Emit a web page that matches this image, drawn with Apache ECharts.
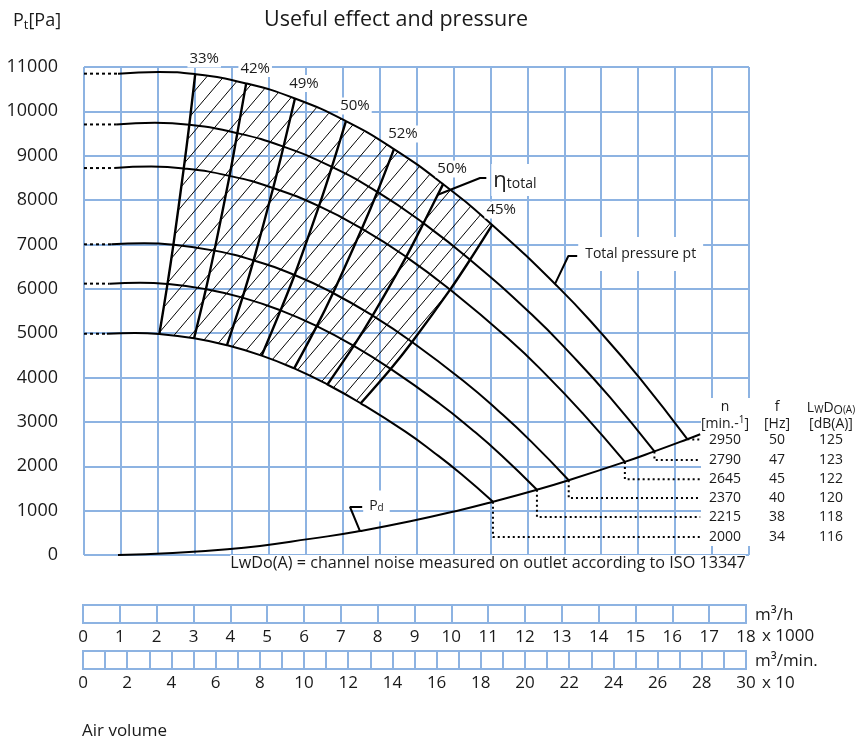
<!DOCTYPE html>
<html><head><meta charset="utf-8">
<script src="https://cdn.jsdelivr.net/npm/echarts@6/dist/echarts.min.js"></script>
<style>html,body{margin:0;padding:0;background:#fff}#c{width:868px;height:740px}</style>
</head><body><div id="c"></div>
<script>
const FONT = '"Open Sans", "Noto Sans", sans-serif';
const TXT = '#1a1a1a';
const BLUE = '#8db3e2';

// ---- data ----
const speeds = [2950, 2790, 2645, 2370, 2215, 2000];
const freqs = [50, 47, 45, 40, 38, 34];
const noise = [125, 123, 122, 120, 118, 116];
const rowLevels = [2600, 2140, 1710, 1285, 857, 406];
const tableEndX = 16.68;

const curve2950 = [[0.92,10850],[2.03,10890],[3.01,10840],[4.39,10630],[5.71,10290],[7.09,9780],[8.39,9150],[9.72,8360],[11.05,7440],[12.81,6060],[13.97,5030],[15.06,3970],[16.33,2610]];
const curve2790 = [[0.87,9705],[1.92,9741],[2.85,9696],[4.15,9508],[5.40,9204],[6.71,8748],[7.94,8184],[9.19,7478],[10.45,6655],[12.12,5420],[13.21,4499],[14.24,3551],[15.44,2335]];
const curve2645 = [[0.82,8722],[1.82,8755],[2.70,8714],[3.94,8546],[5.12,8272],[6.36,7862],[7.52,7356],[8.72,6721],[9.91,5981],[11.49,4872],[12.53,4044],[13.50,3192],[14.64,2098]];
const curve2370 = [[0.74,7003],[1.63,7029],[2.42,6996],[3.53,6861],[4.59,6641],[5.70,6312],[6.74,5906],[7.81,5396],[8.88,4802],[10.29,3911],[11.22,3247],[12.10,2562],[13.12,1685]];
const curve2215 = [[0.69,6117],[1.52,6139],[2.26,6111],[3.30,5993],[4.29,5801],[5.32,5514],[6.30,5158],[7.30,4713],[8.30,4194],[9.62,3416],[10.49,2836],[11.31,2238],[12.26,1471]];
const curve2000 = [[0.62,4987],[1.38,5005],[2.04,4982],[2.98,4886],[3.87,4730],[4.81,4495],[5.69,4206],[6.59,3843],[7.49,3420],[8.69,2785],[9.47,2312],[10.21,1825],[11.07,1200]];
const curves = [curve2950, curve2790, curve2645, curve2370, curve2215, curve2000];

const dynPressure = [[0.92,0],[3.88,130],[6.59,420],[7.48,540],[8.83,760],[10.19,1015],[11.07,1200],[12.26,1471],[13.12,1685],[14.64,2098],[15.44,2335],[16.33,2610],[16.68,2723]];

// efficiency lines join the same operating point on every speed curve
const effNames = ['33%','42%','49%','50%','52%','50%','45%'];
const effPointIndex = [2, 3, 4, 5, 6, 7, 8];

const etaPointer = [[9.56,8115],[10.72,8499],[10.89,8499]];
const ptPointer = [[12.75,6110],[13.11,6740],[13.35,6740]];
const pdPointer = [[7.47,536],[7.20,1082],[7.53,1082]];

const yTicks = {min:0, max:11000, step:1000};
const flowTicks = {min:0, max:18, step:1};
const flowMinTicks = {min:0, max:30, step:1, labelEvery:2};

const effLines = effPointIndex.map(k => curves.map(c => c[k]));

// ---- hatch polygon: between first and last efficiency line, top and bottom speed curve ----
const k0 = effPointIndex[0], k1 = effPointIndex[effPointIndex.length-1];
const topC = curves[0], botC = curves[curves.length-1];
const hatchPoly = []
  .concat(effLines[0].slice().reverse())
  .concat(topC.slice(k0+1, k1))
  .concat(effLines[effLines.length-1])
  .concat(botC.slice(k0+1, k1).reverse());

function makeHatch(){
  const c = document.createElement('canvas'); c.width = 17; c.height = 20;
  const g = c.getContext('2d'); g.strokeStyle = '#000'; g.lineWidth = 1;
  g.beginPath(); g.moveTo(-1.7, 22); g.lineTo(18.7, -2); g.stroke();
  return c;
}
const hatchCanvas = makeHatch();

const series = [];
series.push({
  type:'custom', xAxisIndex:0, yAxisIndex:0, z:3, silent:true,
  data:[[0,0]],
  renderItem(params, api){
    return {type:'polygon', shape:{points: hatchPoly.map(p => api.coord(p)), smooth:0},
      style:{fill:{image:hatchCanvas, repeat:'repeat'}, stroke:null}};
  }
});
const lineBase = {type:'line', xAxisIndex:0, yAxisIndex:0, symbol:'none', silent:true, z:5, animation:false};
curves.forEach((c, i) => {
  series.push(Object.assign({}, lineBase, {data:c, smooth:0.5, lineStyle:{color:'#000', width:2}}));
  series.push(Object.assign({}, lineBase, {data:[[0,c[0][1]], c[0]], lineStyle:{color:'#000', width:2, type:[3,3]}}));
  const e = c[c.length-1];
  series.push(Object.assign({}, lineBase, {data:[e, [e[0], rowLevels[i]], [tableEndX, rowLevels[i]]], lineStyle:{color:'#000', width:2, type:[2,3]}}));
});
series.push(Object.assign({}, lineBase, {data:dynPressure, smooth:0.5, lineStyle:{color:'#000', width:2}}));
effLines.forEach(l => series.push(Object.assign({}, lineBase, {data:l, smooth:0.3, lineStyle:{color:'#000', width:2.4}})));
[etaPointer, ptPointer, pdPointer].forEach(l => series.push(Object.assign({}, lineBase, {data:l, lineStyle:{color:'#000', width:2}})));

const chart = echarts.init(document.getElementById('c'), null, {renderer:'canvas'});
const axisCommon = {type:'value', axisLine:{show:false}, axisTick:{show:false}, splitLine:{show:true, lineStyle:{color:BLUE, width:2}}};
chart.setOption({
  animation:false,
  backgroundColor:'#fff',
  grid:[
    {left:84, top:67, width:665, height:488, show:false},
    {left:83, top:605, width:663, height:18, show:true, borderColor:BLUE, borderWidth:2, backgroundColor:'transparent'},
    {left:83, top:651, width:663, height:18, show:true, borderColor:BLUE, borderWidth:2, backgroundColor:'transparent'}
  ],
  xAxis:[
    Object.assign({}, axisCommon, {gridIndex:0, min:flowTicks.min, max:flowTicks.max, interval:flowTicks.step, axisLabel:{show:false}}),
    Object.assign({}, axisCommon, {gridIndex:1, min:flowTicks.min, max:flowTicks.max, interval:flowTicks.step,
      axisLabel:{show:true, fontSize:17, margin:6, color:TXT, fontFamily:FONT}}),
    Object.assign({}, axisCommon, {gridIndex:2, min:flowMinTicks.min, max:flowMinTicks.max, interval:flowMinTicks.step,
      axisLabel:{show:true, fontSize:17, margin:6, color:TXT, fontFamily:FONT, formatter:v => (v % flowMinTicks.labelEvery === 0 ? String(v) : '')}})
  ],
  yAxis:[
    Object.assign({}, axisCommon, {gridIndex:0, min:yTicks.min, max:yTicks.max, interval:yTicks.step,
      axisLabel:{show:true, fontSize:18, margin:26, color:TXT, fontFamily:FONT, formatter:v => String(v)}}),
    {gridIndex:1, type:'value', show:false, min:0, max:1},
    {gridIndex:2, type:'value', show:false, min:0, max:1}
  ],
  series: series
});

// ---- texts ----
const px = p => chart.convertToPixel({gridIndex:0}, p);
const g = [];
function txt(x, y, text, o){
  o = o || {};
  g.push({type:'text', z:o.z || 20, x:x, y:y, silent:true, style:Object.assign({
    text:text, fontFamily:FONT, fontSize:16, fill:TXT, align:'center', verticalAlign:'middle'}, o.style || {})});
}
// white area behind the table
g.push({type:'rect', z:4, silent:true, shape:{x:701, y:398, width:70, height:148}, style:{fill:'#fff'}});

txt(396, 20, 'Useful effect and pressure', {style:{fontSize:21.5}});
txt(13, 21, '{a|P}{b|t}{a|[Pa]}', {style:{align:'left', rich:{a:{fontSize:18, fontFamily:FONT, fill:TXT}, b:{fontSize:13, fontFamily:FONT, fill:TXT, padding:[9,0,0,0]}}}});

effLines.forEach((l, i) => {
  const p = px(l[0]);
  txt(p[0] + 9, p[1] - 15, effNames[i], {style:{fontSize:15, backgroundColor:'#fff', padding:[1,2]}});
});
const ep = px(etaPointer[etaPointer.length-1]);
txt(ep[0] + 5, ep[1] + 2, '{a|η}{b|total}', {style:{align:'left', backgroundColor:'#fff', padding:[6,3,4,2],
  rich:{a:{fontSize:22, fontFamily:FONT, fill:TXT}, b:{fontSize:14, fontFamily:FONT, fill:TXT, padding:[7,0,0,0]}}}});
const tp = px(ptPointer[ptPointer.length-1]);
txt(tp[0] + 1, tp[1] - 2, 'Total pressure pt', {style:{align:'left', fontSize:14, backgroundColor:'#fff', padding:[10,7]}});
const dp = px(pdPointer[pdPointer.length-1]);
txt(dp[0] + 1, dp[1] - 1, '{a|P}{b|d}', {style:{align:'left', backgroundColor:'#fff', padding:[8,6],
  rich:{a:{fontSize:14, fontFamily:FONT, fill:TXT}, b:{fontSize:10, fontFamily:FONT, fill:TXT, padding:[5,0,0,0]}}}});

// table
const colN = 725, colF = 777, colL = 831;
txt(colN, 407, 'n', {style:{fontSize:14}});
txt(colN, 424, '{a|[min.-}{b|1}{a|]}', {style:{rich:{a:{fontSize:14, fontFamily:FONT, fill:TXT}, b:{fontSize:10, fontFamily:FONT, fill:TXT, padding:[0,0,7,0]}}}});
txt(colF, 407, 'f', {style:{fontSize:14}});
txt(colF, 424, '[Hz]', {style:{fontSize:14}});
txt(colL, 408, '{a|L}{b|W}{a|D}{c|O}{b|(A)}', {style:{rich:{
  a:{fontSize:14, fontFamily:FONT, fill:TXT}, b:{fontSize:10, fontFamily:FONT, fill:TXT, padding:[5,0,0,0]},
  c:{fontSize:12, fontFamily:FONT, fill:TXT, padding:[5,0,0,0]}}}});
txt(colL, 424, '[dB(A)]', {style:{fontSize:14}});
speeds.forEach((s, i) => {
  const y = px([0, rowLevels[i]])[1];
  txt(colN, y, String(s), {style:{fontSize:14}});
  txt(colF, y, String(freqs[i]), {style:{fontSize:14}});
  txt(colL, y, String(noise[i]), {style:{fontSize:14}});
});

txt(488, 563, 'LwDo(A) = channel noise measured on outlet according to ISO 13347', {style:{fontSize:16.2, backgroundColor:'#fff'}});
txt(755, 615, 'm³/h', {style:{align:'left', fontSize:17}});
txt(762, 636, 'x 1000', {style:{align:'left', fontSize:17}});
txt(755, 661, 'm³/min.', {style:{align:'left', fontSize:17}});
txt(762, 683, 'x 10', {style:{align:'left', fontSize:17}});
txt(82, 731, 'Air volume', {style:{align:'left', fontSize:17}});

chart.setOption({graphic:{elements:g}});
</script></body></html>
